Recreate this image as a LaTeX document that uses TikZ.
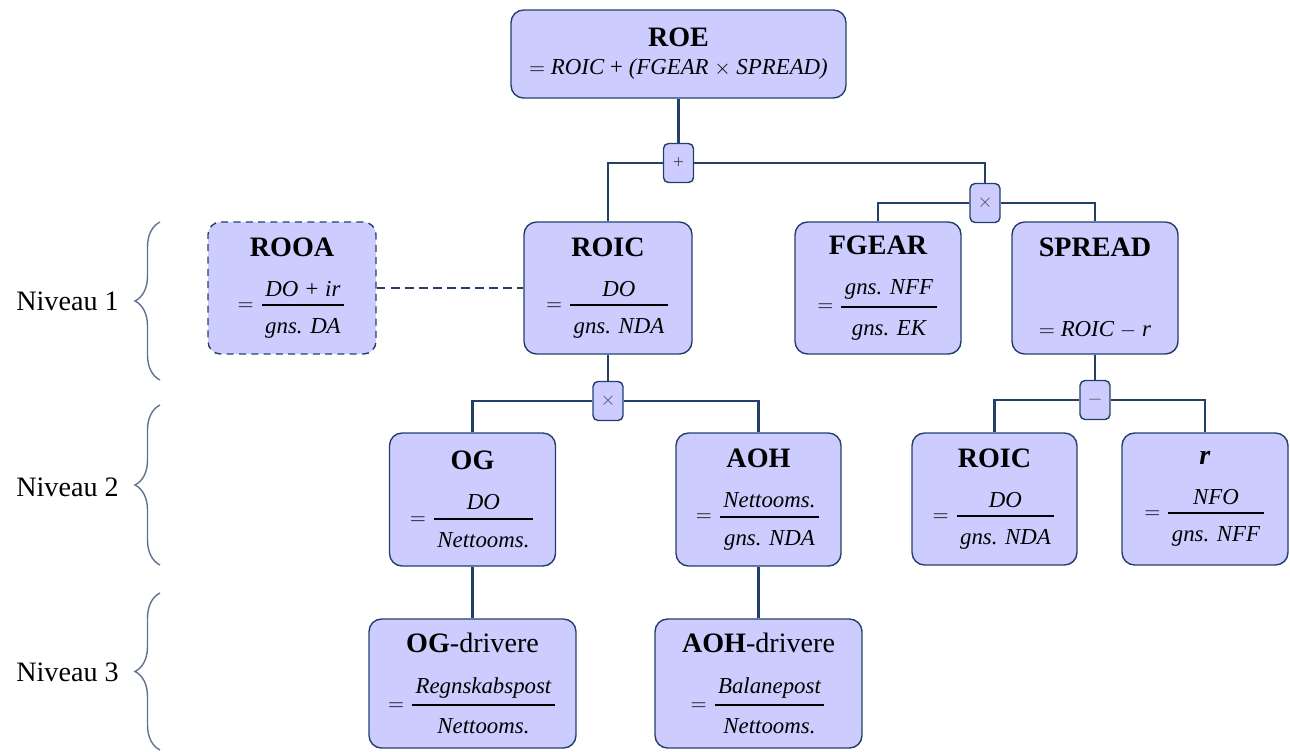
\documentclass[tikz,border=0pt]{standalone}
\usepackage{amsmath}
\usepackage{fontspec}
\setmainfont{Liberation Serif}
\usetikzlibrary{decorations.pathreplacing}
\definecolor{boxfill}{RGB}{204,204,255}
\definecolor{boxline}{RGB}{36,64,105}
\definecolor{bracecol}{RGB}{95,115,145}
\newcommand{\kfrac}[2]{$=\genfrac{}{}{1.2pt}{0}{\,\textit{#1}\,}{\,\textit{#2}\rule{0pt}{12pt}\,}$}
\newcommand{\ttl}[1]{{\fontsize{16}{16}\selectfont\bfseries #1}}
\begin{document}
\begin{tikzpicture}[x=0.02cm,y=-0.02cm,
        box/.style={draw=boxline,fill=boxfill,line width=0.8pt,rounded corners=0.25cm,align=center,inner sep=0pt,minimum width=3.32cm,minimum height=2.64cm,font=\fontsize{13}{16}\selectfont},
        opbox/.style={draw=boxline,fill=boxfill,line width=0.8pt,rounded corners=0.1cm,inner sep=0pt,minimum width=0.6cm,minimum height=0.78cm,font=\fontsize{11}{11}\selectfont,text=black!70},
        link/.style={draw=boxline,line width=1.2pt},
        lvl/.style={decorate,decoration={brace,amplitude=0.5cm},draw=bracecol,line width=0.8pt},
        lvltext/.style={anchor=east,inner sep=0pt,font=\fontsize{16}{16}\selectfont}]
                \useasboundingbox (0,0) rectangle (1290,751);
                \node[box,minimum width=6.7cm,minimum height=1.76cm] (roe) at (678.5,54) {\ttl{ROE}\\$=$ \textit{ROIC} + \textit{(FGEAR} $\times$ \textit{SPREAD)}};
                \node[box,dash pattern=on 4pt off 3pt,minimum width=3.36cm] (rooa) at (292,288) {\ttl{ROOA}\\[13pt]\kfrac{DO + ir}{gns. DA}};
                \node[box,minimum width=3.36cm] (roic) at (608,288) {\ttl{ROIC}\\[13pt]\kfrac{DO}{gns. NDA}};
                \node[box] (fgear) at (878,288) {\ttl{FGEAR}\\[13pt]\kfrac{gns. NFF}{gns. EK}};
                \node[box] (spread) at (1095,288) {\ttl{SPREAD}\\[30pt]$=$ \textit{ROIC} $-$ \textit{r}};
                \node[box,minimum height=2.66cm] (og) at (472.5,499.5) {\ttl{OG}\\[13pt]\kfrac{DO}{Nettooms.}};
                \node[box,minimum width=3.3cm,minimum height=2.66cm] (aoh) at (758.5,499.5) {\ttl{AOH}\\[13pt]\kfrac{Nettooms.}{gns. NDA}};
                \node[box,minimum width=3.3cm] (roicb) at (994.5,499) {\ttl{ROIC}\\[13pt]\kfrac{DO}{gns. NDA}};
                \node[box] (rate) at (1205,499) {\ttl{\textit{r}}\\[13pt]\kfrac{NFO}{gns. NFF}};
                \node[box,minimum width=4.14cm,minimum height=2.58cm] (ogdrv) at (472.5,683.5) {{\fontsize{16}{16}\selectfont\textbf{OG}-drivere}\\[13pt]\kfrac{Regnskabspost}{Nettooms.}};
                \node[box,minimum width=4.14cm,minimum height=2.58cm] (aohdrv) at (758.5,683.5) {{\fontsize{16}{16}\selectfont\textbf{AOH}-drivere}\\[13pt]\kfrac{Balanepost}{Nettooms.}};
                \node[opbox] (plus) at (678.5,163) {+};
                \node[opbox] (multa) at (985,203) {$\times$};
                \node[opbox] (multb) at (608,401) {$\times$};
                \node[opbox] (minus) at (1095,400) {$-$};
                \draw[link] (roe.south) -- (plus.north);
                \draw[link] (plus.west) -| (roic.north);
                \draw[link] (plus.east) -| (multa.north);
                \draw[link] (multa.west) -| (fgear.north);
                \draw[link] (multa.east) -| (spread.north);
                \draw[link] (roic.south) -- (multb.north);
                \draw[link] (multb.west) -| (og.north);
                \draw[link] (multb.east) -| (aoh.north);
                \draw[link] (og.south) -- (ogdrv.north);
                \draw[link] (aoh.south) -- (aohdrv.north);
                \draw[link] (spread.south) -- (minus.north);
                \draw[link] (minus.west) -| (roicb.north);
                \draw[link] (minus.east) -| (rate.north);
                \draw[link,dash pattern=on 5pt off 3pt] (rooa.east) -- (roic.west);
                \draw[lvl] (160,380) -- (160,222);
                \node[lvltext] (lvla) at (119,301) {Niveau 1};
                \draw[lvl] (160,565) -- (160,405);
                \node[lvltext] (lvlb) at (119,487) {Niveau 2};
                \draw[lvl] (160,750) -- (160,593);
                \node[lvltext] (lvlc) at (119,672) {Niveau 3};
            \end{tikzpicture}
\end{document}
